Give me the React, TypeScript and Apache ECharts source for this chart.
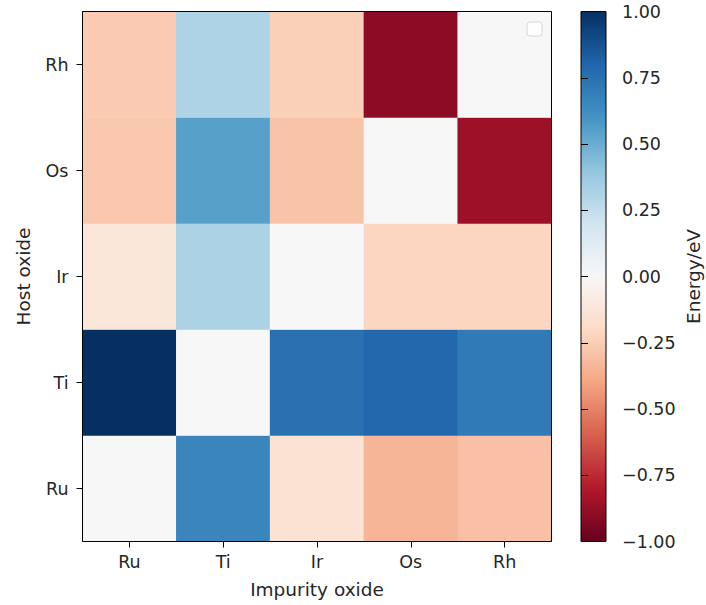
import React, { useEffect, useRef } from "react";
import * as echarts from "echarts";

const impurities = ["Ru", "Ti", "Ir", "Os", "Rh"];
const hosts = ["Ru", "Ti", "Ir", "Os", "Rh"]; // bottom to top

// Values per host row, columns follow impurities
const hostRu = [0.0, 0.66, -0.15, -0.34, -0.3];
const hostTi = [1.0, 0.0, 0.75, 0.79, 0.71];
const hostIr = [-0.12, 0.32, 0.0, -0.22, -0.22];
const hostOs = [-0.27, 0.55, -0.29, 0.0, -0.86];
const hostRh = [-0.26, 0.31, -0.24, -0.9, 0.0];

const rows = [hostRu, hostTi, hostIr, hostOs, hostRh];

const colorMin = -1;
const colorMax = 1;
const colorStep = 0.25;

const rdbu = [
  "#67001f",
  "#b2182b",
  "#d6604d",
  "#f4a582",
  "#fddbc7",
  "#f7f7f7",
  "#d1e5f0",
  "#92c5de",
  "#4393c3",
  "#2166ac",
  "#053061",
];

const FONT = "DejaVu Sans";
const TXT = "#262626";
const TICK_FS = 17.5;
const NAME_FS = 18.5;

export default function App() {
  const ref = useRef<HTMLDivElement>(null);
  useEffect(() => {
    document.body.style.margin = "0";
    if (!ref.current) return;
    const chart = echarts.init(ref.current, undefined, { renderer: "svg" });
    const data: number[][] = [];
    rows.forEach((row, yi) => row.forEach((v, xi) => data.push([xi, yi, v])));

    const gradStops = rdbu
      .slice()
      .reverse()
      .map((c, i) => ({ offset: i / (rdbu.length - 1), color: c }));

    const L = 82.5, T = 11.5, W = 469, H = 530;
    const CL = 581, CW = 25;

    chart.setOption({
      animation: false,
      backgroundColor: "#fff",
      textStyle: { fontFamily: FONT },
      grid: [
        { left: L, top: T, width: W, height: H, outerBoundsMode: "none", containLabel: false },
        {
          left: CL,
          top: T,
          width: CW,
          height: H,
          outerBoundsMode: "none",
          containLabel: false,
          show: true,
          borderColor: "#000",
          borderWidth: 1,
          backgroundColor: new echarts.graphic.LinearGradient(0, 0, 0, 1, gradStops),
        },
      ],
      xAxis: [
        {
          type: "category",
          gridIndex: 0,
          data: impurities,
          position: "bottom",
          name: "Impurity oxide",
          nameLocation: "middle",
          nameGap: 38,
          nameTextStyle: { fontSize: NAME_FS, color: TXT, fontFamily: FONT },
          axisLine: { show: true, lineStyle: { color: "#000", width: 1 } },
          axisTick: { show: true, alignWithLabel: true, length: 6, lineStyle: { color: "#000" } },
          axisLabel: { fontSize: TICK_FS, color: TXT, margin: 11, fontFamily: FONT },
          splitLine: { show: false },
        },
        {
          type: "value",
          gridIndex: 1,
          show: false,
          min: 0,
          max: 1,
        },
      ],
      yAxis: [
        {
          type: "category",
          gridIndex: 0,
          data: hosts,
          name: "Host oxide",
          nameLocation: "middle",
          nameRotate: 90,
          nameGap: 50,
          nameTextStyle: { fontSize: NAME_FS, color: TXT, fontFamily: FONT },
          axisLine: { show: true, lineStyle: { color: "#000", width: 1 } },
          axisTick: { show: true, alignWithLabel: true, length: 6, lineStyle: { color: "#000" } },
          axisLabel: { fontSize: TICK_FS, color: TXT, margin: 14, fontFamily: FONT },
          splitLine: { show: false },
        },
        {
          type: "value",
          gridIndex: 1,
          position: "right",
          min: colorMin,
          max: colorMax,
          interval: colorStep,
          name: "Energy/eV",
          nameLocation: "middle",
          nameRotate: 90,
          nameGap: 78,
          nameTextStyle: { fontSize: NAME_FS, color: TXT, fontFamily: FONT },
          axisLine: { show: false },
          axisTick: { show: true, length: 7, lineStyle: { color: "#000" } },
          axisLabel: {
            fontSize: TICK_FS,
            color: TXT,
            margin: 16,
            fontFamily: FONT,
            formatter: (v: number) =>
              (v < 0 ? "\u2212" : "") + Math.abs(v).toFixed(2),
          },
          splitLine: { show: false },
        },
      ],
      visualMap: {
        show: false,
        min: colorMin,
        max: colorMax,
        seriesIndex: 0,
        dimension: 2,
        inRange: { color: rdbu },
      },
      series: [
        {
          type: "heatmap",
          xAxisIndex: 0,
          yAxisIndex: 0,
          data,
          itemStyle: { borderWidth: 0 },
          emphasis: { disabled: true },
        },
      ],
      graphic: [
        {
          type: "rect",
          shape: { x: L, y: T, width: W, height: H },
          style: { fill: "none", stroke: "#000", lineWidth: 1 },
          z: 100,
          silent: true,
        },
        {
          type: "rect",
          shape: { x: 527, y: 22, width: 15, height: 14, r: 3 },
          style: { fill: "rgba(255,255,255,0.8)", stroke: "#d6d6d6", lineWidth: 1 },
          z: 101,
          silent: true,
        },
      ],
    });
    return () => chart.dispose();
  }, []);
  return <div ref={ref} style={{ width: 706, height: 605 }} />;
}
